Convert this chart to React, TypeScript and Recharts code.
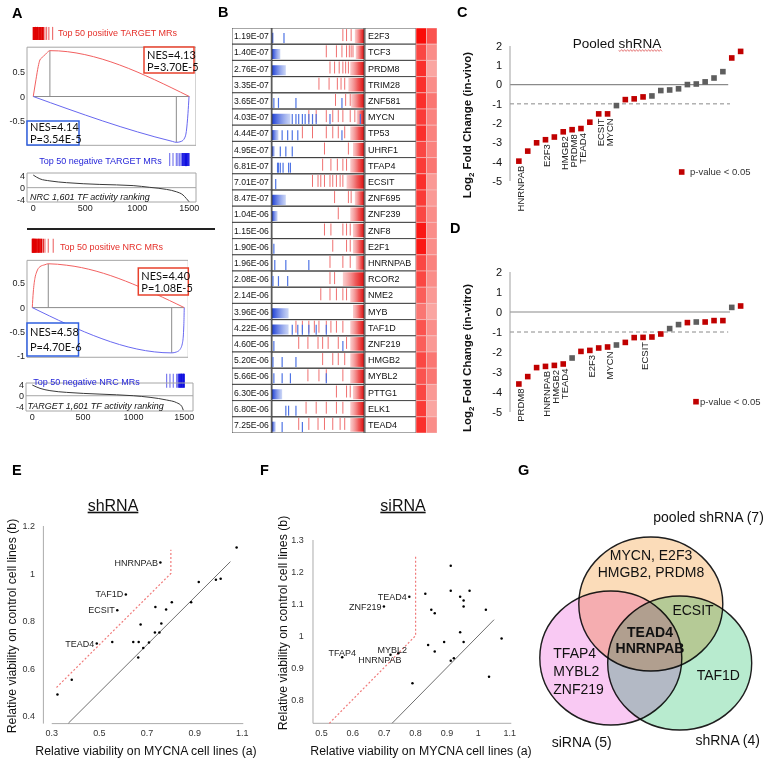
import React from 'react'
import {
  ComposedChart,
  ScatterChart,
  Scatter,
  Line,
  XAxis,
  YAxis,
  ReferenceLine,
  ReferenceArea,
} from 'recharts'

const FONT = '"Liberation Sans", Arial, sans-serif'
const NES_FONT = 'Lato, "Liberation Sans", sans-serif'
const SIG_RED = '#c00000'
const NS_GREY = '#5e5e5e'

type Pt = { x: number; y: number }
const zip = (xs: number[], ys: number[]): Pt[] => xs.map((x, i) => ({ x, y: ys[i] }))

// #region A: GSEA data
// upper: top 50 TARGET MRs on the NRC ranking
const esRank1Up = [0, 26, 48, 64, 96, 128, 160, 1500]
const esVal1Up = [0, 0.34, 0.61, 0.74, 0.81, 0.88, 0.93, 0]
const esRank1Dn = [0, 1336, 1375, 1423, 1455, 1471, 1487, 1497]
const esVal1Dn = [0, -0.91, -0.93, -0.91, -0.84, -0.71, -0.34, 0]
const hits1Up = [0, 5, 10, 16, 22, 28, 33, 40, 47, 55, 62, 68, 74, 82, 90, 96, 112, 128, 150, 186]
const hits1Dn = [1311, 1343, 1375, 1390, 1406, 1420, 1432, 1440, 1448, 1456, 1464, 1472, 1480, 1488, 1496]
const tfRank1 = [0, 64, 160, 320, 640, 960, 1120, 1280, 1375, 1439, 1471, 1497]
const tfAct1 = [4.3, 3.0, 2.3, 1.7, 1.1, 0.7, 0.1, -0.6, -1.4, -2.5, -3.7, -4.8]

// lower: top 50 NRC MRs on the TARGET ranking
const esRank2Up = [0, 10, 26, 43, 76, 125, 158, 340, 1500]
const esVal2Up = [0, 0.32, 0.6, 0.73, 0.84, 0.88, 0.9, 0.87, 0]
const esRank2Dn = [0, 1376, 1425, 1458, 1484, 1496, 1500]
const esVal2Dn = [0, -0.93, -0.91, -0.86, -0.71, -0.36, 0]
const hits2Up = [0, 4, 8, 12, 17, 22, 27, 33, 40, 48, 56, 62, 69, 77, 85, 92, 108, 125, 158, 207]
const hits2Dn = [1326, 1359, 1392, 1425, 1440, 1451, 1458, 1465, 1472, 1479, 1486, 1493, 1500]
const tfRank2 = [0, 76, 174, 339, 668, 997, 1162, 1326, 1425, 1474, 1490]
const tfAct2 = [4.0, 2.75, 1.9, 1.25, 0.6, 0, -0.6, -1.6, -2.6, -3.9, -5.4]
// #endregion

// #region B: MR table
const tfNames = ['E2F3', 'TCF3', 'PRDM8', 'TRIM28', 'ZNF581', 'MYCN', 'TP53', 'UHRF1', 'TFAP4', 'ECSIT', 'ZNF695', 'ZNF239', 'ZNF8', 'E2F1', 'HNRNPAB', 'RCOR2', 'NME2', 'MYB', 'TAF1D', 'ZNF219', 'HMGB2', 'MYBL2', 'PTTG1', 'ELK1', 'TEAD4']
const tfPvals = ['1.19E-07', '1.40E-07', '2.76E-07', '3.35E-07', '3.65E-07', '4.03E-07', '4.44E-07', '4.95E-07', '6.81E-07', '7.01E-07', '8.47E-07', '1.04E-06', '1.15E-06', '1.90E-06', '1.96E-06', '2.08E-06', '2.14E-06', '3.96E-06', '4.22E-06', '4.60E-06', '5.20E-06', '5.66E-06', '6.30E-06', '6.80E-06', '7.25E-06']
const heatA = [1.0, 0.75, 0.85, 0.85, 0.85, 0.8, 0.85, 0.75, 0.8, 0.85, 0.8, 0.75, 0.95, 0.95, 0.75, 0.75, 0.65, 0.55, 0.7, 0.65, 0.75, 0.7, 0.75, 0.8, 0.85]
const heatB = [0.7, 0.45, 0.35, 0.45, 0.55, 0.5, 0.5, 0.5, 0.55, 0.4, 0.4, 0.45, 0.45, 0.45, 0.5, 0.45, 0.4, 0.35, 0.45, 0.4, 0.55, 0.55, 0.4, 0.35, 0.45]
const redStart = [90, 91, 85, 83, 86, 92, 85, 88, 85, 81, 90, 85, 88, 88, 91, 77, 85, 88, 85, 85, 85, 85, 88, 85, 85]
const blueEnd = [2, 9, 15, 0, 0, 20, 7, 3, 0, 0, 15, 6, 0, 0, 0, 0, 0, 18, 18, 0, 0, 0, 11, 0, 4]
const redHits: number[][] = [
  [77, 81, 86], [59, 70, 76, 81, 84, 86, 88], [63, 68, 73, 77, 80, 83], [51, 62, 71, 75, 79],
  [69, 80, 85], [40, 48, 59, 66, 72, 77, 85, 90], [33, 44, 59, 66, 72, 79], [57, 83],
  [55, 64, 71, 77, 81], [44, 50, 53, 57, 63, 66, 70, 74, 77], [68, 83, 86], [72],
  [57, 64, 77, 81, 85], [66, 81, 85], [63, 77, 85], [63, 68], [53, 63, 70, 77, 81], [],
  [26, 33, 40, 46, 51, 59, 64, 70, 77], [29, 39, 50, 55, 61, 72, 81], [55, 66, 72, 79],
  [39, 51, 59, 77], [70, 81, 85], [37, 48, 59, 70, 77], [29, 40, 50, 57, 66, 74, 79],
]
const blueHits: number[][] = [
  [13], [], [], [], [2, 7, 26, 76], [22, 26, 29, 33, 36, 40, 44, 48, 63, 96], [11, 17, 22, 28, 76],
  [9, 15, 22], [6, 7, 9, 12, 18, 20], [4], [], [], [], [2], [3, 15, 40], [1, 7, 17], [], [],
  [22, 28, 33, 40, 48, 59], [2, 77], [1, 11, 26], [2, 11, 20, 59], [], [15, 18, 26], [11, 33],
]
// #endregion

// #region C/D: pooled shRNA fold changes
const vivoLfc = [-3.97, -3.45, -3.02, -2.86, -2.72, -2.45, -2.34, -2.28, -1.95, -1.52, -1.52, -1.09, -0.78, -0.74, -0.64, -0.59, -0.31, -0.28, -0.22, 0, 0.03, 0.14, 0.34, 0.67, 1.38, 1.72]
const vivoSig = [1, 1, 1, 1, 1, 1, 1, 1, 1, 1, 1, 0, 1, 1, 1, 0, 0, 0, 0, 0, 0, 0, 0, 0, 1, 1]
const vivoNames = ['HNRNPAB', '', '', 'E2F3', '', 'HMGB2', 'PRDM8', 'TEAD4', '', 'ECSIT', 'MYCN', '', '', '', '', '', '', '', '', '', '', '', '', '', '', '']
const vitroLfc = [-3.6, -3.23, -2.78, -2.72, -2.67, -2.6, -2.3, -1.97, -1.92, -1.8, -1.75, -1.65, -1.52, -1.28, -1.27, -1.25, -1.1, -0.83, -0.63, -0.53, -0.5, -0.5, -0.43, -0.43, 0.23, 0.3]
const vitroSig = [1, 1, 1, 1, 1, 1, 0, 1, 1, 1, 1, 0, 1, 1, 1, 1, 1, 0, 0, 1, 0, 1, 1, 1, 0, 1]
const vitroNames = ['PRDM8', '', '', 'HNRNPAB', 'HMGB2', 'TEAD4', '', '', 'E2F3', '', 'MYCN', '', '', '', 'ECSIT', '', '', '', '', '', '', '', '', '', '', '']
// #endregion

// #region E/F: viability screens
const shA = [0.324, 0.384, 0.489, 0.554, 0.575, 0.611, 0.756, 0.642, 0.665, 0.673, 0.663, 0.684, 0.708, 0.735, 0.733, 0.752, 0.76, 0.78, 0.804, 0.885, 0.917, 0.989, 1.009, 1.076]
const shB = [0.49, 0.553, 0.705, 0.712, 0.845, 0.912, 1.046, 0.712, 0.712, 0.785, 0.646, 0.686, 0.709, 0.859, 0.752, 0.752, 0.789, 0.848, 0.879, 0.879, 0.964, 0.974, 0.978, 1.109]
const shNames = ['', '', 'TEAD4', '', 'ECSIT', 'TAF1D', 'HNRNPAB', '', '', '', '', '', '', '', '', '', '', '', '', '', '', '', '', '']
const siA = [0.912, 0.831, 0.78, 0.699, 0.912, 0.942, 0.953, 0.972, 0.953, 0.85, 0.861, 1.024, 0.942, 0.891, 0.953, 0.84, 0.861, 1.074, 0.922, 0.912, 0.745, 0.72, 0.566, 0.79, 1.034]
const siB = [1.219, 1.131, 1.122, 1.091, 1.141, 1.122, 1.11, 1.141, 1.091, 1.081, 1.07, 1.081, 1.011, 0.98, 0.98, 0.971, 0.95, 0.991, 0.929, 0.921, 0.945, 0.94, 0.932, 0.851, 0.871]
const siNames = ['', '', 'TEAD4', 'ZNF219', '', '', '', '', '', '', '', '', '', '', '', '', '', '', '', '', 'MYBL2', 'HNRNPAB', 'TFAP4', '', '']
const shDiagA = [0.37, 1.05]
const shCutA = [0.32, 0.8, 0.8]
const shCutB = [0.52, 1.0, 1.1]
const siDiagA = [0.725, 1.05]
const siCutA = [0.525, 0.8, 0.8]
const siCutB = [0.725, 1.0, 1.25]
// #endregion

// #region G: overlap
const vennSets = ['pooled shRNA', 'siRNA', 'shRNA']
const vennSizes = [7, 5, 4]
const vennPooledOnly = ['MYCN, E2F3', 'HMGB2, PRDM8']
const vennSiOnly = ['TFAP4', 'MYBL2', 'ZNF219']
const vennShOnly = ['TAF1D']
const vennPooledSh = ['ECSIT']
const vennAll = ['TEAD4', 'HNRNPAB']
// #endregion

const vennLayout = [
  { x: 650.8, y: 604, rx: 72, ry: 67, fill: '#fbdcb9' },
  { x: 610.8, y: 658, rx: 71, ry: 67, fill: '#f9c9f3' },
  { x: 679.7, y: 663, rx: 72, ry: 67, fill: '#b8ebcf' },
]

const heatColor = (v: number) => {
  const k = 1 - v
  return `rgb(250, ${Math.round(12 + 235 * k)}, ${Math.round(8 + 235 * k)})`
}

const axisFont = { fontSize: 9, fill: '#222', fontFamily: FONT }

const hitShape = (half: number, color: string, strongUntil: (x: number) => boolean) => (p: any) => {
  const { cx, cy, payload } = p
  return (
    <line x1={cx} x2={cx} y1={cy - half} y2={cy + half} stroke={color} strokeWidth={1.2}
      strokeOpacity={strongUntil(payload.x) ? 1 : 0.55} />
  )
}

type GseaProps = {
  top: number; height: number; right: number
  xDomain: [number, number]; yDomain: [number, number]; ticks: number[]
  box: [number, number]; hitY: [number, number]; hitHalf: number
  up: Pt[]; dn: Pt[]; hitsUp: number[]; hitsDn: number[]
}

function GseaChart(p: GseaProps) {
  const upPeak = p.up.reduce((a, b) => (b.y > a.y ? b : a))
  const dnPeak = p.dn.reduce((a, b) => (b.y < a.y ? b : a))
  return (
    <div style={{ position: 'absolute', left: 0, top: p.top }}>
      <ComposedChart width={p.right} height={p.height} margin={{ top: 0, right: 0, bottom: 0, left: 0 }}>
        <XAxis type="number" dataKey="x" domain={p.xDomain} hide />
        <YAxis type="number" domain={p.yDomain} ticks={p.ticks} interval={0} width={27} axisLine={false}
          tickLine={false} tickSize={0} tickMargin={2} tick={axisFont} />
        <ReferenceArea x1={p.xDomain[0]} x2={p.xDomain[1]} y1={p.box[0]} y2={p.box[1]} fill="none" stroke="#a6a6a6" />
        <ReferenceLine segment={[{ x: 0, y: 0 }, { x: 1500, y: 0 }]} stroke="#8c8c8c" />
        <ReferenceLine segment={[{ x: upPeak.x, y: 0 }, upPeak]} stroke="#8c8c8c" />
        <ReferenceLine segment={[{ x: dnPeak.x, y: 0 }, dnPeak]} stroke="#8c8c8c" />
        <Line data={p.up} dataKey="y" type="monotone" stroke="#f26060" dot={false} isAnimationActive={false} />
        <Line data={p.dn} dataKey="y" type="monotone" stroke="#6868f0" dot={false} isAnimationActive={false} />
        <Scatter data={p.hitsUp.map((x) => ({ x, y: p.hitY[0] }))} dataKey="y" isAnimationActive={false}
          shape={hitShape(p.hitHalf, '#e00000', (x) => x < 110)} />
        <Scatter data={p.hitsDn.map((x) => ({ x, y: p.hitY[1] }))} dataKey="y" isAnimationActive={false}
          shape={hitShape(p.hitHalf, '#1010e0', (x) => x > 1430)} />
      </ComposedChart>
    </div>
  )
}

type RankProps = {
  top: number; plotH: number; left: number; right: number
  xDomain: [number, number]; yDomain: [number, number]; curve: Pt[]
}

function RankChart(p: RankProps) {
  const mt = 6
  return (
    <div style={{ position: 'absolute', left: 0, top: p.top - mt }}>
      <ComposedChart width={p.right + 12} height={p.plotH + 14 + mt} margin={{ top: mt, right: 12, bottom: 0, left: 0 }}>
        <XAxis type="number" dataKey="x" domain={p.xDomain} ticks={[0, 500, 1000, 1500]} interval={0}
          height={14} axisLine={false} tickLine={false} tickSize={0} tickMargin={3} tick={axisFont} />
        <YAxis type="number" domain={p.yDomain} ticks={[4, 0, -4]} interval={0} width={p.left} axisLine={false}
          tickLine={false} tickSize={0} tickMargin={2} tick={axisFont} />
        <ReferenceArea x1={p.xDomain[0]} x2={p.xDomain[1]} y1={p.yDomain[0]} y2={p.yDomain[1]} fill="none" stroke="#a6a6a6" />
        <ReferenceLine y={0} stroke="#a6a6a6" />
        <Line data={p.curve} dataKey="y" type="monotone" stroke="#3a3a3a" dot={false} isAnimationActive={false} />
      </ComposedChart>
    </div>
  )
}

function TableB() {
  const ticks: { x: number; y: number; c: string }[] = []
  tfNames.forEach((_, i) => {
    redHits[i].forEach((x) => ticks.push({ x, y: i + 0.5, c: 'r' }))
    blueHits[i].forEach((x) => ticks.push({ x, y: i + 0.5, c: 'b' }))
  })
  const cellText = { fontSize: 8.6, fill: '#111', fontFamily: FONT }
  return (
    <div style={{ position: 'absolute', left: 232, top: 27.5 }}>
      <ScatterChart width={205} height={405} margin={{ top: 0, right: 0, bottom: 0, left: 0 }}>
        <XAxis type="number" dataKey="x" domain={[-43.5, 179.3]} hide />
        <YAxis type="number" dataKey="y" domain={[0, 25]} reversed hide />
        {tfNames.map((name, i) => (
          <React.Fragment key={name}>
            <ReferenceArea x1={-43.5} x2={-0.8} y1={i} y2={i + 1} fill="#fff" fillOpacity={1} stroke="#3a3a3a" strokeWidth={0.9}
              label={{ value: tfPvals[i], position: 'insideLeft', offset: 2, ...cellText }} />
            {redStart[i] < 100 && (
              <ReferenceArea x1={redStart[i]} x2={100} y1={i + 0.08} y2={i + 0.92} fill="url(#redRamp)" fillOpacity={1} stroke="none" />
            )}
            {blueEnd[i] > 0 && (
              <ReferenceArea x1={0} x2={blueEnd[i]} y1={i + 0.3} y2={i + 0.92} fill="url(#blueRamp)" fillOpacity={1} stroke="none" />
            )}
            <ReferenceArea x1={0} x2={100} y1={i} y2={i + 1} fill="none" stroke="#3a3a3a" strokeWidth={0.9} />
            <ReferenceArea x1={101} x2={156.5} y1={i} y2={i + 1} fill="#fff" fillOpacity={1} stroke="#3a3a3a" strokeWidth={0.9}
              label={{ value: name, position: 'insideLeft', offset: 3, ...cellText, fontSize: 9 }} />
            <ReferenceArea x1={156.5} x2={167.9} y1={i} y2={i + 1} fill={heatColor(heatA[i])} fillOpacity={1} stroke="#f4c4c4" strokeWidth={0.6} />
            <ReferenceArea x1={167.9} x2={179.3} y1={i} y2={i + 1} fill={heatColor(heatB[i])} fillOpacity={1} stroke="#f4c4c4" strokeWidth={0.6} />
          </React.Fragment>
        ))}
        <Scatter data={ticks} isAnimationActive={false}
          shape={(p: any) =>
            p.payload.c === 'r' ? (
              <line x1={p.cx} x2={p.cx} y1={p.cy - 7} y2={p.cy + 5} stroke="#ef7070" strokeWidth={1} />
            ) : (
              <line x1={p.cx} x2={p.cx} y1={p.cy - 3} y2={p.cy + 7} stroke="#4f74e4" strokeWidth={1.2} />
            )
          } />
      </ScatterChart>
    </div>
  )
}

const FoldMark = (p: any) => {
  const { cx, cy, payload } = p
  return (
    <g>
      <rect x={cx - 2.8} y={cy - 2.8} width={5.6} height={5.6} fill={payload.sig ? SIG_RED : NS_GREY} />
      {payload.name && (
        <text transform={`translate(${cx + 1.5},${cy + 4.5}) rotate(-90)`} textAnchor="end" dominantBaseline="central"
          fontSize={9.5} fontFamily={FONT} fill="#222">
          {payload.name}
        </text>
      )}
    </g>
  )
}

type FoldProps = { top: number; plotH: number; left: number; lfc: number[]; sig: number[]; names: string[]; zeroEnd: number; dashEnd: number }

function FoldChart(p: FoldProps) {
  const pts = p.lfc.map((y, i) => ({ x: i + 1, y, sig: p.sig[i], name: p.names[i] }))
  const mt = 8
  return (
    <div style={{ position: 'absolute', left: p.left - 40, top: p.top - mt }}>
      <ComposedChart width={40 + 239.5} height={p.plotH + 50 + mt} margin={{ top: mt, right: 0, bottom: 50, left: 0 }}>
        <XAxis type="number" dataKey="x" domain={[0, 27]} hide />
        <YAxis type="number" domain={[-5, 2]} ticks={[2, 1, 0, -1, -2, -3, -4, -5]} interval={0} width={40}
          axisLine={{ stroke: '#a0a0a0' }} tickLine={false} tickSize={0} tickMargin={8}
          tick={{ fontSize: 11, fill: '#111', fontFamily: FONT }} />
        <ReferenceLine segment={[{ x: 0, y: 0 }, { x: p.zeroEnd, y: 0 }]} stroke="#8a8a8a" strokeWidth={1.2} />
        <ReferenceLine segment={[{ x: 0, y: -1 }, { x: p.dashEnd, y: -1 }]} stroke="#8a8a8a" strokeDasharray="4 3" />
        <Scatter data={pts} dataKey="y" shape={FoldMark} isAnimationActive={false} />
      </ComposedChart>
    </div>
  )
}

const labelNudge: Record<string, [number, number, 'start' | 'middle' | 'end']> = {
  TFAP4: [0, -4.7, 'middle'],
  MYBL2: [8.6, -3, 'end'],
  HNRNPAB: [11, 5, 'end'],
}

const makeDot = (nudge: typeof labelNudge) => (p: any) => {
  const { cx, cy, payload } = p
  const n = nudge[payload.name] ?? [-2.5, 0, 'end']
  return (
    <g>
      <circle cx={cx} cy={cy} r={1.25} fill="#000" />
      {payload.name && (
        <text x={cx + n[0]} y={cy + n[1]} textAnchor={n[2]} dominantBaseline="central" fontSize={9}
          fontFamily={FONT} fill="#222">
          {payload.name}
        </text>
      )}
    </g>
  )
}

type ViaProps = {
  left: number; top: number; yAxisW: number; plotW: number; plotH: number
  xDomain: [number, number]; yDomain: [number, number]; xTicks: number[]; yTicks: number[]
  a: number[]; b: number[]; names: string[]; diag: number[]; cutA: number[]; cutB: number[]
  yMargin: number; nudge: typeof labelNudge; xLineFrom: number
}

function ViabilityChart(p: ViaProps) {
  const pts = p.a.map((x, i) => ({ x, y: p.b[i], name: p.names[i] }))
  const axis = { stroke: '#ababab' }
  const tick = { fontSize: 9, fill: '#333', fontFamily: FONT }
  const mt = 7
  const mr = 12
  return (
    <div style={{ position: 'absolute', left: p.left, top: p.top - mt }}>
      <ComposedChart width={p.yAxisW + p.plotW + mr} height={p.plotH + 20 + mt} margin={{ top: mt, right: mr, bottom: 0, left: 0 }}>
        <XAxis type="number" dataKey="x" domain={p.xDomain} ticks={p.xTicks} interval={0} height={20}
          axisLine={false} tickLine={false} tickSize={0} tickMargin={6.5} tick={tick} />
        <YAxis type="number" domain={p.yDomain} ticks={p.yTicks} interval={0} width={p.yAxisW}
          axisLine={axis} tickLine={false} tickSize={0} tickMargin={p.yMargin} tick={tick} />
        <ReferenceLine segment={[{ x: p.xLineFrom, y: p.yDomain[0] }, { x: p.xDomain[1], y: p.yDomain[0] }]} stroke="#ababab" />
        <Line data={zip(p.diag, p.diag)} dataKey="y" type="linear" stroke="#6e6e6e" dot={false} isAnimationActive={false} />
        <Line data={zip(p.cutA, p.cutB)} dataKey="y" type="linear" stroke="#f07a7a" strokeWidth={1.2}
          strokeDasharray="2 2" dot={false} isAnimationActive={false} />
        <Scatter data={pts} dataKey="y" shape={makeDot(p.nudge)} isAnimationActive={false} />
      </ComposedChart>
    </div>
  )
}

function VennChart() {
  const discs = vennLayout.map((c, i) => ({ ...c, set: vennSets[i] }))
  return (
    <div style={{ position: 'absolute', left: 505, top: 440 }}>
      <ScatterChart width={267} height={322} margin={{ top: 0, right: 0, bottom: 0, left: 0 }}>
        <XAxis type="number" dataKey="x" domain={[505, 772]} hide />
        <YAxis type="number" dataKey="y" domain={[440, 762]} reversed hide />
        <Scatter data={discs} isAnimationActive={false}
          shape={(p: any) => (
            <ellipse cx={p.cx} cy={p.cy} rx={p.payload.rx} ry={p.payload.ry} fill={p.payload.fill}
              stroke="#1e1e1e" strokeWidth={1.4} style={{ mixBlendMode: 'multiply' }} />
          )} />
      </ScatterChart>
    </div>
  )
}

function wave(x0: number, x1: number, y: number) {
  let d = `M${x0},${y}`
  for (let x = x0, k = 0; x < x1; x += 1.5, k++) d += ` L${x + 1.5},${y + (k % 2 ? -0.9 : 0.9)}`
  return d
}

function Annotations() {
  const letter = { fontSize: 14.5, fontWeight: 700, fill: '#000' }
  const red = '#e5302a'
  const blue = '#2626d9'
  const nes = { fontFamily: NES_FONT, fontSize: 11, fill: '#111' }
  const g = { fontSize: 14, fill: '#111' }
  return (
    <svg width={772} height={762} style={{ position: 'absolute', left: 0, top: 0, pointerEvents: 'none' }}
      fontFamily={FONT}>
      <text x={12} y={18.4} {...letter}>A</text>
      <text x={218} y={17.4} {...letter}>B</text>
      <text x={457} y={17.4} {...letter}>C</text>
      <text x={450} y={233.4} {...letter}>D</text>
      <text x={12} y={475.4} {...letter}>E</text>
      <text x={260} y={475.4} {...letter}>F</text>
      <text x={518} y={475.4} {...letter}>G</text>

      {/* A upper */}
      <text x={58} y={36} fontSize={9} fill={red}>Top 50 positive TARGET MRs</text>
      <rect x={144} y={47} width={50} height={26} fill="#fff" stroke="#e8412c" strokeWidth={1.5} />
      <text x={147} y={58.5} {...nes}>NES=4.13</text>
      <text x={147} y={70.5} {...nes}>P=3.70E-5</text>
      <rect x={27} y={121} width={52} height={24} fill="#fff" stroke="#3060e0" strokeWidth={1.5} />
      <text x={30} y={131} {...nes}>NES=4.14</text>
      <text x={30} y={143} {...nes}>P=3.54E-5</text>
      <text x={39.3} y={163.5} fontSize={9} fill={blue}>Top 50 negative TARGET MRs</text>
      <text x={30} y={199.5} fontSize={9} fontStyle="italic" fill="#111">NRC 1,601 TF activity ranking</text>
      <line x1={27} x2={215} y1={229} y2={229} stroke="#222" strokeWidth={2} />

      {/* A lower */}
      <text x={60} y={250.2} fontSize={9} fill={red}>Top 50 positive NRC MRs</text>
      <rect x={138.3} y={268} width={50} height={27} fill="#fff" stroke="#e8412c" strokeWidth={1.5} />
      <text x={141.3} y={279.5} {...nes}>NES=4.40</text>
      <text x={141.3} y={291.5} {...nes}>P=1.08E-5</text>
      <rect x={27} y={323} width={51.5} height={33} fill="#fff" stroke="#3060e0" strokeWidth={1.5} />
      <text x={30} y={336} {...nes}>NES=4.58</text>
      <text x={30} y={351} {...nes}>P=4.70E-6</text>
      <text x={33.3} y={384.5} fontSize={9} fill={blue}>Top 50 negative NRC MRs</text>
      <text x={27.5} y={408.5} fontSize={9} fontStyle="italic" fill="#111">TARGET 1,601 TF activity ranking</text>

      {/* C / D */}
      <text x={617} y={48} fontSize={13.5} textAnchor="middle" fill="#111">Pooled shRNA</text>
      <path d={wave(618.6, 661.3, 50.5)} fill="none" stroke="#e06060" strokeWidth={0.8} />
      <text transform="translate(470.7,125) rotate(-90)" textAnchor="middle" fontSize={11.5} fontWeight={700} fill="#111">
        Log<tspan fontSize={8} dy={3}>2</tspan><tspan dy={-3}> Fold Change (in-vivo)</tspan>
      </text>
      <text transform="translate(470.7,358) rotate(-90)" textAnchor="middle" fontSize={11.5} fontWeight={700} fill="#111">
        Log<tspan fontSize={8} dy={3}>2</tspan><tspan dy={-3}> Fold Change (in-vitro)</tspan>
      </text>
      <rect x={678.9} y={169.2} width={5.6} height={5.6} fill={SIG_RED} />
      <text x={690} y={175.3} fontSize={9.5} fill="#333">p-value  {'<'} 0.05</text>
      <rect x={693.2} y={398.9} width={5.6} height={5.6} fill={SIG_RED} />
      <text x={700} y={405} fontSize={9.5} fill="#333">p-value  {'<'} 0.05</text>

      {/* E / F */}
      <text x={113} y={510.7} fontSize={16} textAnchor="middle" textDecoration="underline" fill="#111">shRNA</text>
      <text x={403} y={510.7} fontSize={16} textAnchor="middle" textDecoration="underline" fill="#111">siRNA</text>
      <text transform="translate(15.7,626) rotate(-90)" textAnchor="middle" fontSize={12.3} fill="#111">
        Relative viability on control cell lines (b)
      </text>
      <text transform="translate(287.4,623) rotate(-90)" textAnchor="middle" fontSize={12.3} fill="#111">
        Relative viability on control cell lines (b)
      </text>
      <text x={146} y={755} textAnchor="middle" fontSize={12.3} fill="#111">Relative viability on MYCNA cell lines (a)</text>
      <text x={421} y={755} textAnchor="middle" fontSize={12.3} fill="#111">Relative viability on MYCNA cell lines (a)</text>

      {/* G */}
      <text x={653.3} y={521.7} {...g}>{`${vennSets[0]} (${vennSizes[0]})`}</text>
      <text x={581.7} y={746.7} textAnchor="middle" {...g}>{`${vennSets[1]} (${vennSizes[1]})`}</text>
      <text x={727.7} y={745} textAnchor="middle" {...g}>{`${vennSets[2]} (${vennSizes[2]})`}</text>
      {vennPooledOnly.map((s, i) => (
        <text key={s} x={651} y={560 + i * 16.7} textAnchor="middle" {...g}>{s}</text>
      ))}
      <text x={693} y={615} textAnchor="middle" {...g}>{vennPooledSh[0]}</text>
      {vennAll.map((s, i) => (
        <text key={s} x={650} y={636.7 + i * 16.6} textAnchor="middle" {...g} fontWeight={700}>{s}</text>
      ))}
      {vennSiOnly.map((s, i) => (
        <text key={s} x={553.3} y={658.3 + i * 17.9} {...g}>{s}</text>
      ))}
      <text x={718.3} y={680} textAnchor="middle" {...g}>{vennShOnly[0]}</text>
    </svg>
  )
}

export default function App() {
  return (
    <div style={{ position: 'absolute', left: 0, top: 0, width: 772, height: 762, background: '#fff', overflow: 'hidden', fontFamily: FONT }}>
      <svg width={0} height={0} style={{ position: 'absolute' }}>
        <defs>
          <linearGradient id="redRamp" x1="0" x2="1" y1="0" y2="0">
            <stop offset="0" stopColor="#f6a4a4" stopOpacity={0.55} />
            <stop offset="0.6" stopColor="#ee5a5a" />
            <stop offset="1" stopColor="#e01010" />
          </linearGradient>
          <linearGradient id="blueRamp" x1="0" x2="1" y1="0" y2="0">
            <stop offset="0" stopColor="#1d3fd6" />
            <stop offset="1" stopColor="#a9bbf0" stopOpacity={0.6} />
          </linearGradient>
        </defs>
      </svg>

      <GseaChart top={25.2} height={143} right={196} xDomain={[-60, 1564]} yDomain={[-1.45, 1.45]}
        ticks={[0.5, 0, -0.5]} box={[-0.99, 1.0]} hitY={[1.28, -1.28]} hitHalf={6.5}
        up={zip(esRank1Up, esVal1Up)} dn={zip(esRank1Dn, esVal1Dn)} hitsUp={hits1Up} hitsDn={hits1Dn} />
      <RankChart top={173} plotH={29} left={27} right={196} xDomain={[-60, 1564]} yDomain={[-4.9, 5.0]}
        curve={zip(tfRank1, tfAct1)} />
      <GseaChart top={235.7} height={154.4} right={188.3} xDomain={[-52, 1540]} yDomain={[-1.7, 1.47]}
        ticks={[0.5, 0, -0.5, -1]} box={[-1.02, 0.97]} hitY={[1.27, -1.5]} hitHalf={7}
        up={zip(esRank2Up, esVal2Up)} dn={zip(esRank2Dn, esVal2Dn)} hitsUp={hits2Up} hitsDn={hits2Dn} />
      <RankChart top={383} plotH={28} left={26} right={193} xDomain={[-62, 1586]} yDomain={[-5.7, 4.75]}
        curve={zip(tfRank2, tfAct2)} />

      <TableB />

      <FoldChart top={46} plotH={135} left={509.8} lfc={vivoLfc} sig={vivoSig} names={vivoNames} zeroEnd={24.6} dashEnd={24.8} />
      <FoldChart top={271.7} plotH={140} left={510} lfc={vitroLfc} sig={vitroSig} names={vitroNames} zeroEnd={24.8} dashEnd={24.6} />

      <ViabilityChart left={0} top={525.7} yAxisW={43.4} plotW={199.9} plotH={197.6}
        xDomain={[0.265, 1.104]} yDomain={[0.368, 1.2]} xTicks={[0.3, 0.5, 0.7, 0.9, 1.1]} yTicks={[0.4, 0.6, 0.8, 1, 1.2]}
        a={shA} b={shB} names={shNames} diag={shDiagA} cutA={shCutA} cutB={shCutB} yMargin={8.4} nudge={{}} xLineFrom={0.3} />
      <ViabilityChart left={273.3} top={540} yAxisW={40} plotW={198.3} plotH={183.3}
        xDomain={[0.473, 1.105]} yDomain={[0.725, 1.3]} xTicks={[0.5, 0.6, 0.7, 0.8, 0.9, 1, 1.1]}
        yTicks={[0.8, 0.9, 1, 1.1, 1.2, 1.3]}
        a={siA} b={siB} names={siNames} diag={siDiagA} cutA={siCutA} cutB={siCutB} yMargin={9.3} nudge={labelNudge} xLineFrom={0.473} />

      <VennChart />
      <Annotations />
    </div>
  )
}
